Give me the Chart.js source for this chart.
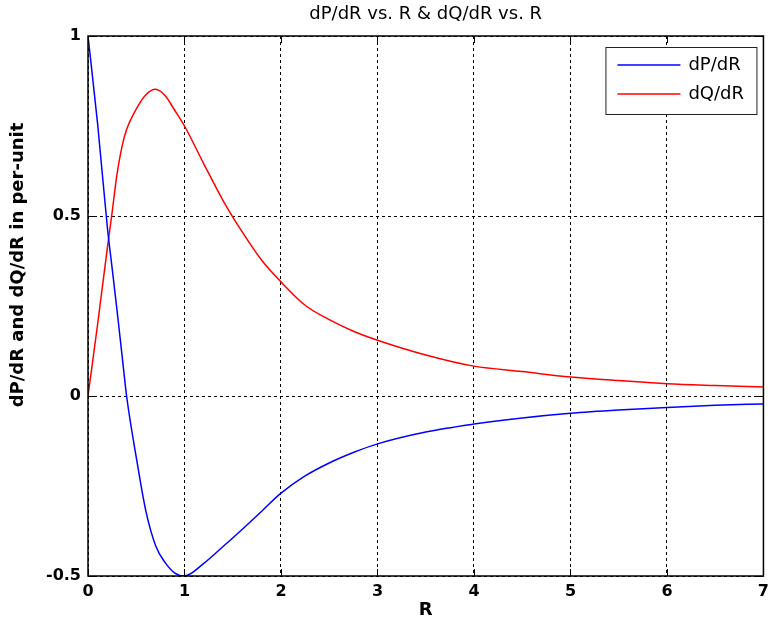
<!DOCTYPE html>
<html lang="en">
<head>
    <meta charset="UTF-8">
    <title>dP/dR vs. R & dQ/dR vs. R</title>
    <script src="https://cdn.jsdelivr.net/npm/chart.js"></script>
    <style>
        html, body { margin: 0; padding: 0; background: #fff; }
        #wrap { width: 775px; height: 637px; }
    </style>
</head>
<body>
    <div id="wrap"><canvas id="grafico"></canvas></div>

    <script>
        // valori di R (ascissa) e derivate in per-unit
        const valoriR = [0, 0.1, 0.2, 0.25, 0.3, 0.35, 0.4, 0.5, 0.6, 0.7, 0.8, 0.9, 1.0, 1.2, 1.4, 1.6, 1.8, 2.0,
                         2.25, 2.5, 2.75, 3.0, 3.5, 4.0, 4.5, 5.0, 5.5, 6.0, 6.5, 7.0];
        const dPdR = [1.0, 0.755, 0.47, 0.355, 0.24, 0.12, 0.0, -0.17, -0.32, -0.415, -0.463, -0.492, -0.50,
                      -0.465, -0.418, -0.37, -0.32, -0.27, -0.222, -0.186, -0.157, -0.133, -0.1, -0.078,
                      -0.061, -0.048, -0.039, -0.032, -0.026, -0.022];
        const dQdR = [0.0, 0.2, 0.41, 0.51, 0.615, 0.69, 0.74, 0.797, 0.837, 0.852, 0.834, 0.793, 0.75,
                      0.645, 0.543, 0.455, 0.377, 0.317, 0.252, 0.212, 0.18, 0.155, 0.114, 0.083,
                      0.068, 0.053, 0.043, 0.034, 0.029, 0.025];
        const tickX = [0, 1, 2, 3, 4, 5, 6, 7];
        const tickY = [-0.5, 0, 0.5, 1];

        const titolo = 'dP/dR vs. R & dQ/dR vs. R';
        const etichettaY = 'dP/dR and dQ/dR in per-unit';
        const font = '"DejaVu Sans", Verdana, sans-serif';

        function punti(valori) {
            return valoriR.map((r, i) => ({ x: r, y: valori[i] }));
        }

        // cornice, tacche interne, titolo, etichetta verticale e legenda
        const cornice = {
            id: 'cornice',
            afterDraw(chart) {
                const { ctx, chartArea: a, scales } = chart;
                ctx.save();
                ctx.strokeStyle = '#000';
                ctx.lineWidth = 1.5;
                ctx.strokeRect(a.left, a.top, a.right - a.left, a.bottom - a.top);

                ctx.lineWidth = 1;
                ctx.beginPath();
                tickX.forEach(v => {
                    const x = Math.round(scales.x.getPixelForValue(v)) + 0.5;
                    ctx.moveTo(x, a.bottom); ctx.lineTo(x, a.bottom - 7);
                    ctx.moveTo(x, a.top); ctx.lineTo(x, a.top + 7);
                });
                tickY.forEach(v => {
                    const y = Math.round(scales.y.getPixelForValue(v)) + 0.5;
                    ctx.moveTo(a.left, y); ctx.lineTo(a.left + 7, y);
                    ctx.moveTo(a.right, y); ctx.lineTo(a.right - 7, y);
                });
                ctx.stroke();

                ctx.fillStyle = '#000';
                ctx.textAlign = 'center';
                ctx.textBaseline = 'middle';
                ctx.font = '18px ' + font;
                ctx.fillText(titolo, (a.left + a.right) / 2, 14);

                ctx.save();
                ctx.translate(18, 265);
                ctx.rotate(-Math.PI / 2);
                ctx.font = 'bold 18px ' + font;
                ctx.fillText(etichettaY, 0, 0);
                ctx.restore();

                // legenda
                const lx = a.right - 158, ly = a.top + 11, lw = 151, lh = 67;
                ctx.fillStyle = '#fff';
                ctx.fillRect(lx, ly, lw, lh);
                ctx.strokeStyle = '#222';
                ctx.lineWidth = 1;
                ctx.strokeRect(lx + 0.5, ly + 0.5, lw, lh);
                ctx.font = '18px ' + font;
                ctx.textAlign = 'left';
                chart.data.datasets.forEach((ds, i) => {
                    const y = ly + 18 + i * 29;
                    ctx.strokeStyle = ds.borderColor;
                    ctx.lineWidth = 1.5;
                    ctx.beginPath();
                    ctx.moveTo(lx + 12, y); ctx.lineTo(lx + 75, y);
                    ctx.stroke();
                    ctx.fillStyle = '#000';
                    ctx.fillText(ds.label, lx + 83, y);
                });
                ctx.restore();
            }
        };

        new Chart(document.getElementById('grafico'), {
            type: 'line',
            data: {
                datasets: [{
                    label: 'dP/dR',
                    data: punti(dPdR),
                    borderColor: '#0000ff',
                    borderWidth: 1.5,
                    pointRadius: 0,
                    cubicInterpolationMode: 'monotone'
                }, {
                    label: 'dQ/dR',
                    data: punti(dQdR),
                    borderColor: '#ff0000',
                    borderWidth: 1.5,
                    pointRadius: 0,
                    cubicInterpolationMode: 'monotone'
                }]
            },
            options: {
                responsive: true,
                maintainAspectRatio: false,
                animation: false,
                layout: { padding: { left: 0, right: 5, top: 36, bottom: 16 } },
                plugins: {
                    legend: { display: false },
                    tooltip: { enabled: false }
                },
                scales: {
                    x: {
                        type: 'linear',
                        min: 0,
                        max: 7,
                        afterBuildTicks: s => { s.ticks = tickX.map(v => ({ value: v })); },
                        afterFit: s => { s.height = 45; },
                        grid: { color: '#000', lineWidth: 1, drawTicks: false },
                        border: { display: false, dash: [3, 3] },
                        ticks: { color: '#000', padding: 6, font: { family: font, size: 16, weight: 'bold' } },
                        title: {
                            display: true, text: 'R', color: '#000',
                            font: { family: font, size: 18, weight: 'bold' }, padding: { top: 0, bottom: 0 }
                        }
                    },
                    y: {
                        min: -0.5,
                        max: 1,
                        afterBuildTicks: s => { s.ticks = tickY.map(v => ({ value: v })); },
                        afterFit: s => { s.width = 88; },
                        grid: { color: '#000', lineWidth: 1, drawTicks: false },
                        border: { display: false, dash: [3, 3] },
                        ticks: {
                            color: '#000', padding: 7, font: { family: font, size: 16, weight: 'bold' },
                            callback: v => String(v)
                        }
                    }
                }
            },
            plugins: [cornice]
        });
    </script>
</body>
</html>
